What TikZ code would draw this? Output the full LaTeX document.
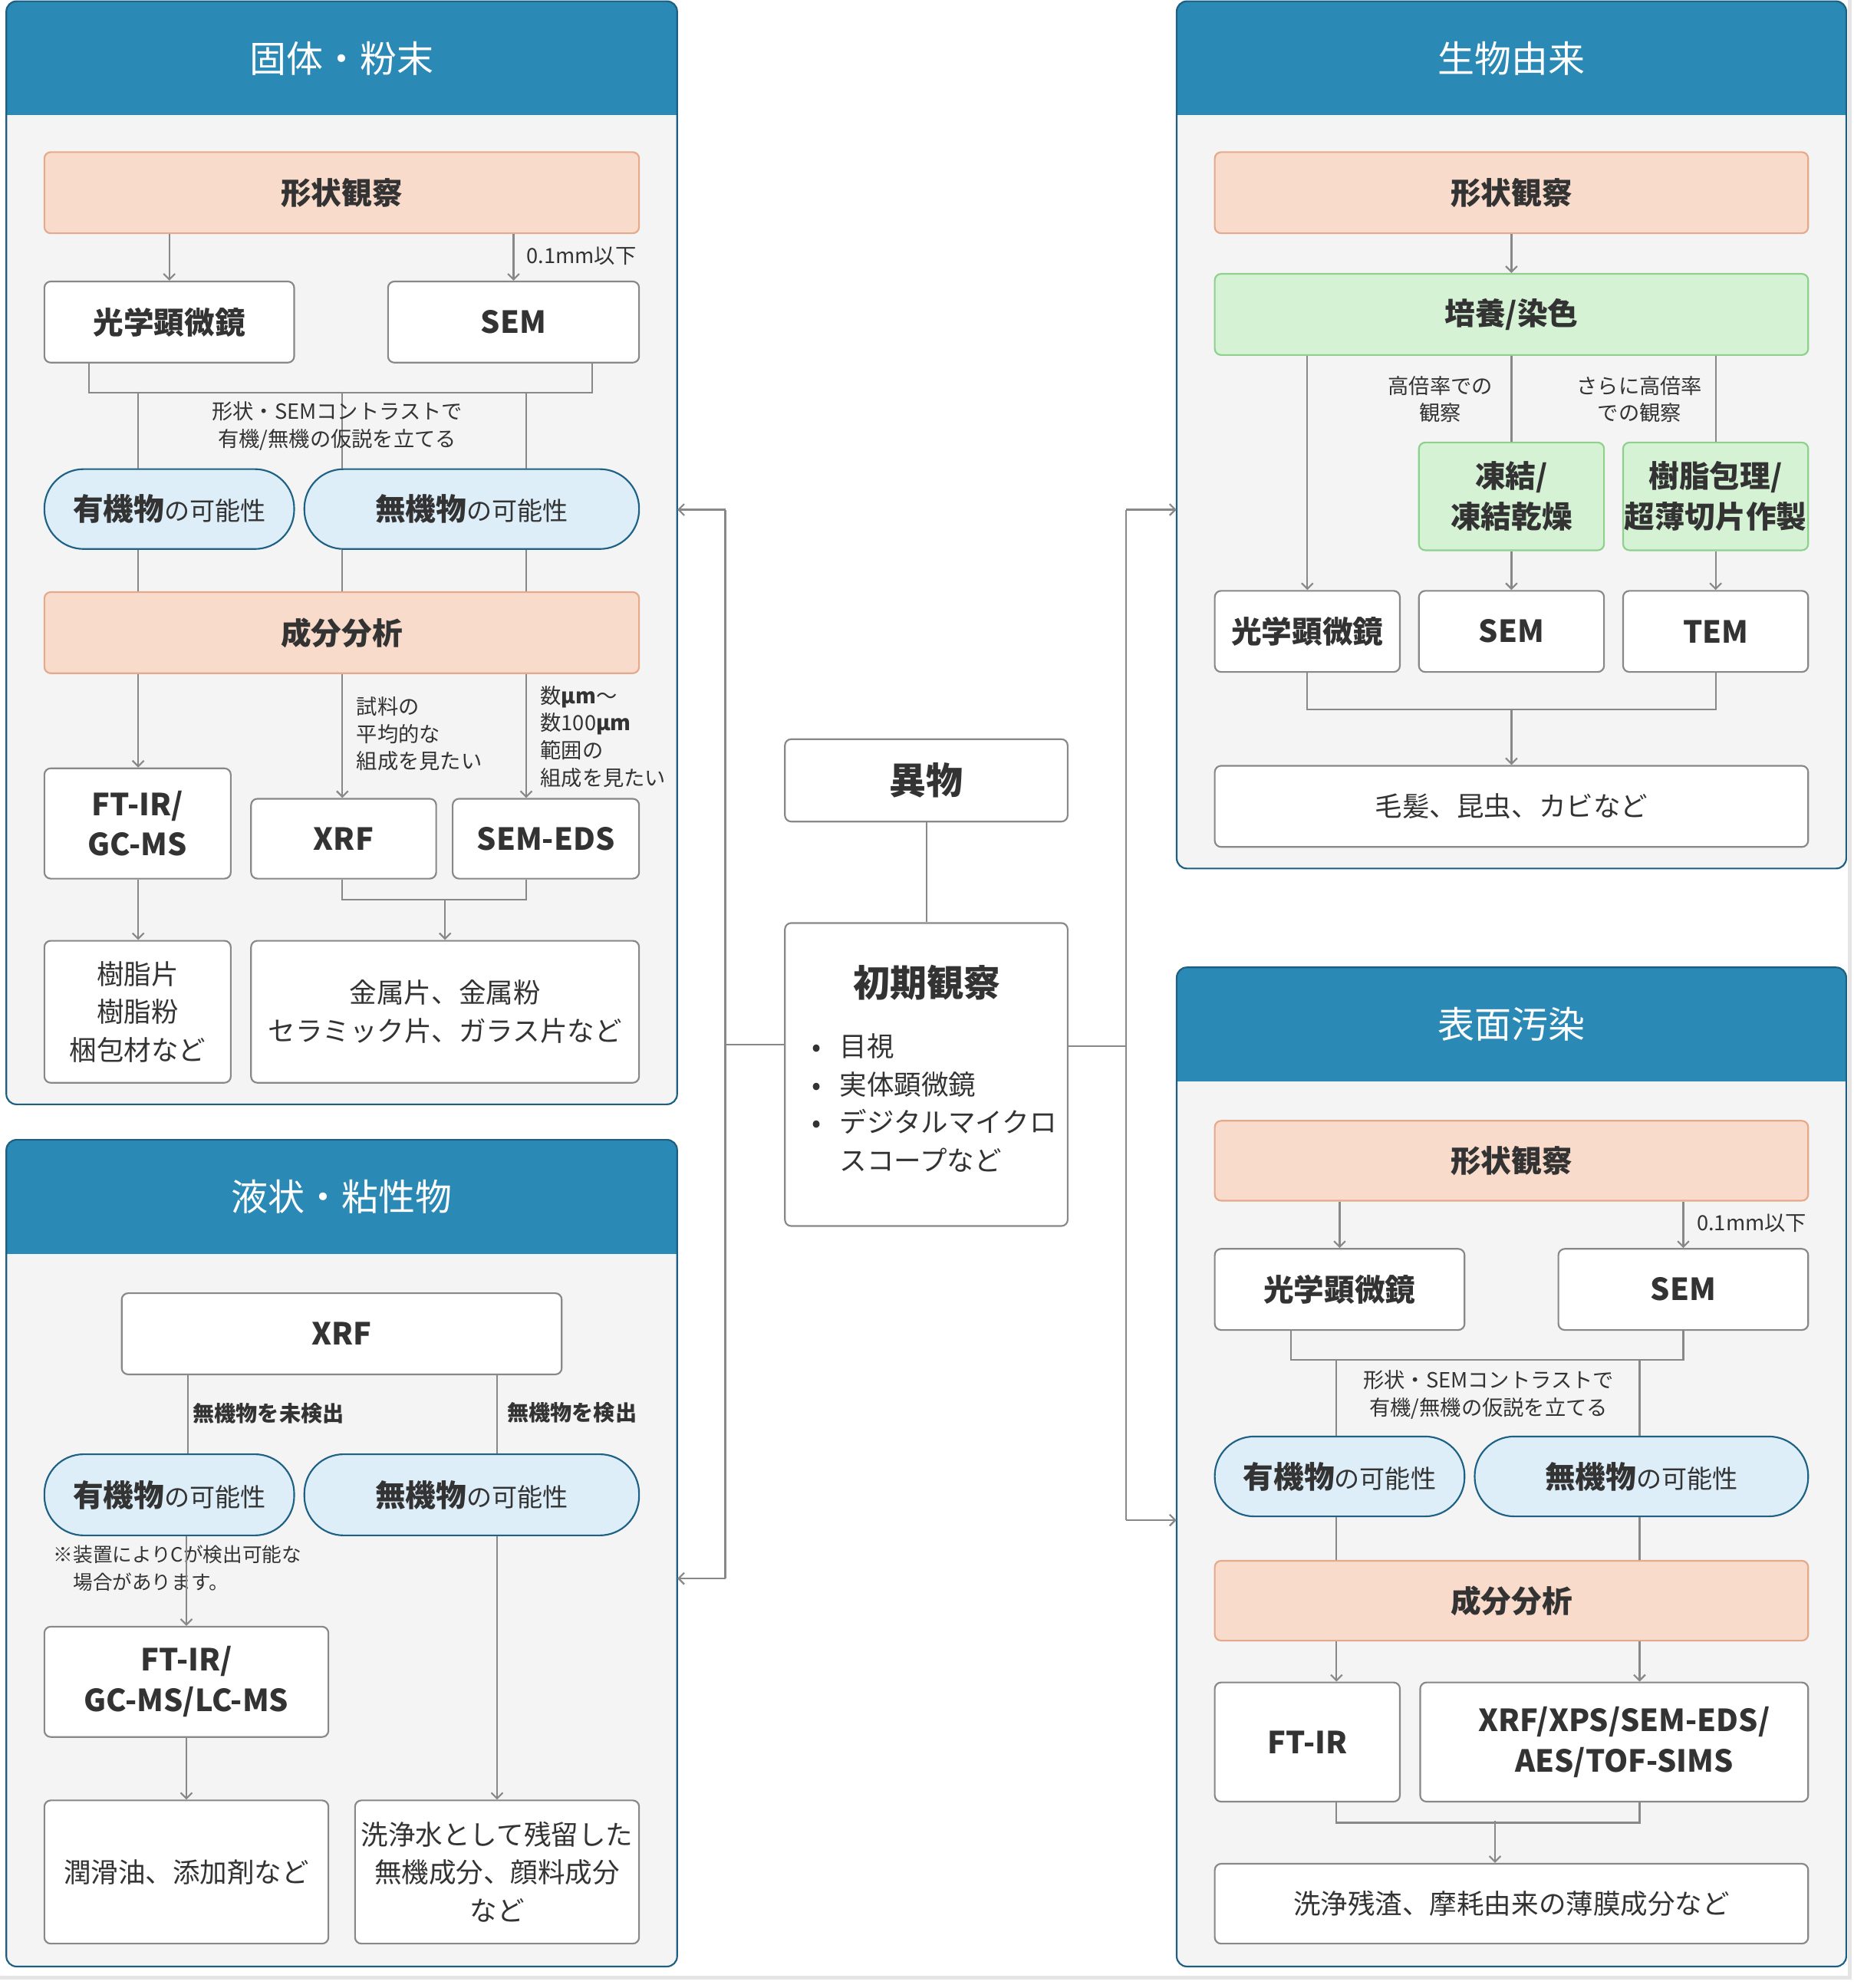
\documentclass[tikz,border=0pt]{standalone}
\usepackage{fontspec}
\setmainfont{Noto Sans CJK JP}
\usetikzlibrary{calc,arrows.meta}
\definecolor{hdrblue}{HTML}{2B8AB5}
\definecolor{panelbg}{HTML}{F4F4F4}
\definecolor{panelline}{HTML}{1D5F82}
\definecolor{peachfill}{HTML}{F8DBCB}
\definecolor{peachline}{HTML}{E5AA8B}
\definecolor{greenfill}{HTML}{D5F2D5}
\definecolor{greenline}{HTML}{8DD18D}
\definecolor{pillfill}{HTML}{DDEEF9}
\definecolor{pillline}{HTML}{1F6185}
\definecolor{boxline}{HTML}{888888}
\definecolor{ink}{HTML}{333333}
\newcommand{\kanou}{{\mdseries\fontsize{20}{24}\selectfont の可能性}}

\tikzset{
  link/.style={draw=boxline, line width=1.3pt},
  arr/.style={link, -{Straight Barb[length=4.5pt,width=9pt]}},
  wbox/.style={draw=boxline, fill=white, line width=1.3pt, rounded corners=5pt,
    inner sep=0pt, align=center, text=ink, font=\bfseries\fontsize{24}{32}\selectfont},
  tbox/.style={wbox, font=\fontsize{21.5}{30}\selectfont},
  pbox/.style={wbox, draw=peachline, fill=peachfill},
  gbox/.style={wbox, draw=greenline, fill=greenfill},
  pill/.style={wbox, draw=pillline, fill=pillfill, rounded corners=31pt},
  panelbox/.style={fill=panelbg, rounded corners=8pt, inner sep=0pt},
  paneltitle/.style={text=white, inner sep=0pt, font=\fontsize{29}{34}\selectfont},
  note/.style={text=ink, align=left, inner sep=0pt, font=\fontsize{16.5}{21.5}\selectfont},
  bnote/.style={note, font=\bfseries\fontsize{17}{21}\selectfont},
}

\begin{document}
\begin{tikzpicture}[x=1pt, y=-1pt]
  \newcommand{\kbox}[7][wbox]{%
    \node[#1, minimum width={#5-#3}, minimum height={#6-#4}] (#2)
      at ({(#3+#5)/2},{(#4+#6)/2}) {#7};
  }
  \newcommand{\panel}[6]{%
    \node[panelbox, minimum width={#4-#2}, minimum height={#5-#3}] (#1)
      at ({(#2+#4)/2},{(#3+#5)/2}) {};
    \begin{scope}
      \clip[rounded corners=8pt] (#2,#3) rectangle (#4,#5);
      \fill[hdrblue] (#2,#3) rectangle (#4,{#3+90});
    \end{scope}
    \draw[panelline, line width=1.3pt, rounded corners=8pt] (#2,#3) rectangle (#4,#5);
    \node[paneltitle] (#1-t) at ({(#2+#4)/2},{#3+45}) {#6};
  }
  \useasboundingbox (0,0) rectangle (1462,1568);
  \fill[white] (0,0) rectangle (1462,1568);
  \draw[gray!20, line width=3pt] (0,1560) -- (1459,1560) -- (1459,0);

  % panels
  \panel{kotai}{5}{1}{534}{871}{固体・粉末}
  \panel{ekijo}{5}{899}{534}{1551}{液状・粘性物}
  \panel{seibutsu}{928}{1}{1456}{685}{生物由来}
  \panel{hyomen}{928}{763}{1456}{1551}{表面汚染}

  % center
  \kbox{ibutsu}{619}{583}{842}{648}{\fontsize{29}{34}\selectfont 異物}
  \kbox{shoki}{619}{728}{842}{967}{}
  \node[text=ink, inner sep=0pt, font=\bfseries\fontsize{29}{34}\selectfont] (shoki-t)
    at (731,775) {初期観察};
  \node[text=ink, inner sep=0pt, align=left, anchor=west, font=\fontsize{21.5}{30}\selectfont]
    (shoki-l) at (635,870)
    {\makebox[18pt]{•}\hspace{9pt}目視\\
     \makebox[18pt]{•}\hspace{9pt}実体顕微鏡\\
     \makebox[18pt]{•}\hspace{9pt}デジタルマイクロ\\
     \hspace*{27pt}スコープなど};
  \draw[link] (ibutsu.south) -- (shoki.north);
  \coordinate (ltop) at (572,402);
  \coordinate (lbot) at (572,1245);
  \coordinate (rtop) at (888,402);
  \coordinate (rbot) at (888,1199);
  \draw[link] (shoki.west |- 0,824) -| (ltop);
  \draw[link] (ltop) -- (lbot);
  \draw[arr] (ltop) -- (ltop -| kotai.east);
  \draw[arr] (lbot) -- (lbot -| ekijo.east);
  \draw[link] (shoki.east |- 0,825) -| (rtop);
  \draw[link] (rtop) -- (rbot);
  \draw[arr] (rtop) -- (rtop -| seibutsu.west);
  \draw[arr] (rbot) -- (rbot -| hyomen.west);

  % solid / powder
  \kbox[pbox]{k-keijo}{35}{120}{504}{184}{形状観察}
  \kbox{k-kogaku}{35}{222}{232}{286}{光学顕微鏡}
  \kbox{k-sem}{306}{222}{504}{286}{SEM}
  \kbox[pill]{k-yuki}{35}{370}{232}{433}{有機物\kanou}
  \kbox[pill]{k-muki}{240}{370}{504}{433}{無機物\kanou}
  \kbox[pbox]{k-seibun}{35}{467}{504}{531}{成分分析}
  \kbox{k-ftir}{35}{606}{182}{693}{FT-IR/\\GC-MS}
  \kbox{k-xrf}{198}{630}{344}{693}{XRF}
  \kbox{k-eds}{357}{630}{504}{693}{SEM-EDS}
  \kbox[tbox]{k-jushi}{35}{742}{182}{854}{樹脂片\\樹脂粉\\梱包材など}
  \kbox[tbox]{k-kinzoku}{198}{742}{504}{854}{金属片、金属粉\\セラミック片、ガラス片など}
  \draw[arr] (k-keijo.south -| k-kogaku.north) -- (k-kogaku.north);
  \draw[arr] (k-keijo.south -| k-sem.north) -- (k-sem.north);
  \node[note, anchor=west] (k-lbl0) at (415,202) {0.1mm以下};
  \draw[link] (k-kogaku.south -| 70,0) -- ++(0,23) -| (k-sem.south -| 467,0);
  \foreach \xx/\tg in {109/k-yuki,270/k-muki,415/k-muki} {
    \draw[link] (\xx,309) -- (\tg.north -| \xx,0);
    \draw[link] (\tg.south -| \xx,0) -- (k-seibun.north -| \xx,0);
  }
  \node[note, align=center] (k-lbl1) at (266,336) {形状・SEMコントラストで\\有機/無機の仮説を立てる};
  \draw[arr] (k-seibun.south -| 109,0) -- (k-ftir.north -| 109,0);
  \draw[arr] (k-seibun.south -| 270,0) -- (k-xrf.north -| 270,0);
  \draw[arr] (k-seibun.south -| 415,0) -- (k-eds.north -| 415,0);
  \node[note, anchor=west] (k-lbl2) at (281,579) {試料の\\平均的な\\組成を見たい};
  \node[note, anchor=west] (k-lbl3) at (426,581) {数{\bfseries μm}～\\数100{\bfseries μm}\\範囲の\\組成を見たい};
  \draw[arr] (k-ftir.south -| 109,0) -- (k-jushi.north -| 109,0);
  \draw[link] (k-xrf.south -| 270,0) -- ++(0,16) -| (k-eds.south -| 415,0);
  \draw[arr] (k-kinzoku.north |- 0,709) -- (k-kinzoku.north);

  % liquid / viscous
  \kbox{e-xrf}{96}{1020}{443}{1084}{XRF}
  \kbox[pill]{e-yuki}{35}{1147}{232}{1211}{有機物\kanou}
  \kbox[pill]{e-muki}{240}{1147}{504}{1211}{無機物\kanou}
  \kbox{e-ftir}{35}{1283}{259}{1370}{FT-IR/\\GC-MS/LC-MS}
  \kbox[tbox]{e-jun}{35}{1420}{259}{1533}{潤滑油、添加剤など}
  \kbox[tbox]{e-sen}{280}{1420}{504}{1533}{洗浄水として残留した\\無機成分、顔料成分\\など}
  \draw[link] (e-xrf.south -| 148,0) -- (e-yuki.north -| 148,0);
  \draw[link] (e-xrf.south -| 392,0) -- (e-muki.north -| 392,0);
  \node[bnote, anchor=west] (e-lbl1) at (152,1115) {無機物を未検出};
  \node[bnote, anchor=west] (e-lbl2) at (400,1114) {無機物を検出};
  \node[note, anchor=west, font=\fontsize{15.5}{22}\selectfont] (e-lbl3) at (42,1237)
    {※装置によりCが検出可能な\\\hspace*{1em}場合があります。};
  \draw[arr] (e-yuki.south -| e-ftir.north) -- (e-ftir.north);
  \draw[arr] (e-ftir.south) -- (e-jun.north);
  \draw[arr] (e-muki.south -| e-sen.north) -- (e-sen.north);

  % biological
  \kbox[pbox]{s-keijo}{958}{120}{1426}{184}{形状観察}
  \kbox[gbox]{s-baiyo}{958}{216}{1426}{280}{培養/染色}
  \kbox[gbox]{s-toketsu}{1119}{349}{1265}{434}{凍結/\\凍結乾燥}
  \kbox[gbox]{s-jushi}{1280}{349}{1426}{434}{樹脂包理/\\超薄切片作製}
  \kbox{s-kogaku}{958}{466}{1104}{530}{光学顕微鏡}
  \kbox{s-sem}{1119}{466}{1265}{530}{SEM}
  \kbox{s-tem}{1280}{466}{1426}{530}{TEM}
  \kbox[tbox]{s-mohatsu}{958}{604}{1426}{668}{毛髪、昆虫、カビなど}
  \draw[arr] (s-keijo.south) -- (s-baiyo.north);
  \draw[arr] (s-baiyo.south -| s-kogaku.north) -- (s-kogaku.north);
  \draw[link] (s-baiyo.south -| s-toketsu.north) -- (s-toketsu.north);
  \draw[link] (s-baiyo.south -| s-jushi.north) -- (s-jushi.north);
  \node[note, align=center] (s-lbl1) at (1136,315) {高倍率での\\観察};
  \node[note, align=center] (s-lbl2) at (1293,315) {さらに高倍率\\での観察};
  \draw[arr] (s-toketsu.south) -- (s-sem.north);
  \draw[arr] (s-jushi.south) -- (s-tem.north);
  \draw[link] (s-kogaku.south) -- ++(0,29) -| (s-tem.south);
  \draw[arr] (s-mohatsu.north |- 0,559) -- (s-mohatsu.north);

  % surface contamination
  \kbox[pbox]{h-keijo}{958}{884}{1426}{947}{形状観察}
  \kbox{h-kogaku}{958}{985}{1155}{1049}{光学顕微鏡}
  \kbox{h-sem}{1229}{985}{1426}{1049}{SEM}
  \kbox[pill]{h-yuki}{958}{1133}{1155}{1196}{有機物\kanou}
  \kbox[pill]{h-muki}{1163}{1133}{1426}{1196}{無機物\kanou}
  \kbox[pbox]{h-seibun}{958}{1231}{1426}{1294}{成分分析}
  \kbox{h-ftir}{958}{1327}{1104}{1421}{FT-IR}
  \kbox{h-xrf}{1120}{1327}{1426}{1421}{\hspace*{16pt}XRF/XPS/SEM-EDS/\\\hspace*{16pt}AES/TOF-SIMS}
  \kbox[tbox]{h-zan}{958}{1470}{1426}{1533}{洗浄残渣、摩耗由来の薄膜成分など}
  \draw[arr] (h-keijo.south -| h-kogaku.north) -- (h-kogaku.north);
  \draw[arr] (h-keijo.south -| h-sem.north) -- (h-sem.north);
  \node[note, anchor=west] (h-lbl0) at (1338,965) {0.1mm以下};
  \draw[link] (h-kogaku.south -| 1018,0) -- ++(0,23) -| (h-sem.south);
  \foreach \xx/\tg in {1054/h-yuki,1293/h-muki} {
    \draw[link] (\xx,1072) -- (\tg.north -| \xx,0);
    \draw[link] (\tg.south -| \xx,0) -- (h-seibun.north -| \xx,0);
  }
  \node[note, align=center] (h-lbl1) at (1174,1100) {形状・SEMコントラストで\\有機/無機の仮説を立てる};
  \draw[arr] (h-seibun.south -| 1054,0) -- (h-ftir.north -| 1054,0);
  \draw[arr] (h-seibun.south -| 1293,0) -- (h-xrf.north -| 1293,0);
  \draw[link] (h-ftir.south -| 1054,0) -- ++(0,16) -| (h-xrf.south -| 1293,0);
  \draw[arr] (h-zan.north -| 1179,0) ++(0,-33) -- (h-zan.north -| 1179,0);
\end{tikzpicture}
\end{document}
